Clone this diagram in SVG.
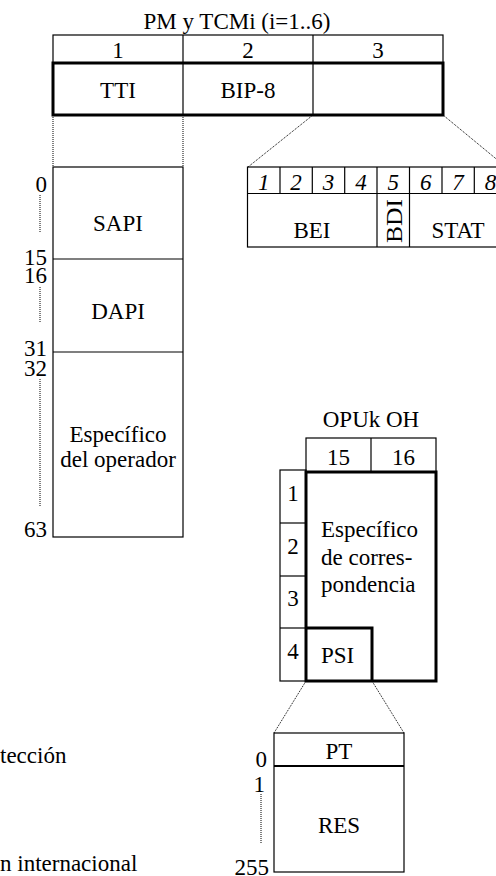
<svg xmlns="http://www.w3.org/2000/svg" width="496" height="876" viewBox="0 0 496 876">
<style>
text{font-family:"Liberation Serif","Times New Roman","DejaVu Serif",serif;font-size:23px;fill:#000}
.m{text-anchor:middle}
.r{text-anchor:end}
.i{font-style:italic}
.thin{fill:none;stroke:#000;stroke-width:1.2}
.thick{fill:none;stroke:#000;stroke-width:3}
.dot{fill:none;stroke:#000;stroke-width:1;stroke-dasharray:1 1}
</style>
<rect width="496" height="876" fill="#fff"/>
<g id="connectors">
<line class="dot" x1="53" y1="115" x2="53" y2="167"/>
<line class="dot" x1="183" y1="115" x2="183" y2="167"/>
<line class="dot" x1="313" y1="115" x2="248" y2="167"/>
<line class="dot" x1="443" y1="115" x2="506" y2="167"/>
<line class="dot" x1="40" y1="195" x2="40" y2="232"/>
<line class="dot" x1="40" y1="287" x2="40" y2="323"/>
<line class="dot" x1="40" y1="379" x2="40" y2="507"/>
<line class="dot" x1="306" y1="681" x2="274" y2="733"/>
<line class="dot" x1="372" y1="681" x2="404" y2="733"/>
<line class="dot" x1="261" y1="794" x2="261" y2="843"/>
</g>
<g id="pm-tcm">
<text class="m" x="237" y="29">PM y TCMi (i=1..6)</text>
<rect class="thin" x="53" y="35" width="390" height="28"/>
<line class="thin" x1="183" y1="35" x2="183" y2="115"/>
<line class="thin" x1="313" y1="35" x2="313" y2="115"/>
<rect class="thick" x="53" y="63" width="390" height="52"/>
<text class="m" x="118" y="58">1</text>
<text class="m" x="248" y="58">2</text>
<text class="m" x="378" y="58">3</text>
<text class="m" x="118" y="98">TTI</text>
<text class="m" x="248" y="98">BIP-8</text>
</g>
<g id="tti">
<rect class="thin" x="53" y="167" width="130" height="370"/>
<line class="thin" x1="53" y1="259" x2="183" y2="259"/>
<line class="thin" x1="53" y1="352" x2="183" y2="352"/>
<text class="m" x="118" y="231">SAPI</text>
<text class="m" x="118" y="319">DAPI</text>
<text class="m" x="118" y="442">Específico</text>
<text class="m" x="118" y="467">del operador</text>
<text class="r" x="47" y="192">0</text>
<text class="r" x="47" y="265">15</text>
<text class="r" x="47" y="283">16</text>
<text class="r" x="47" y="356">31</text>
<text class="r" x="47" y="376">32</text>
<text class="r" x="47" y="537">63</text>
</g>
<g id="byte3">
<rect class="thin" x="247.5" y="167" width="259" height="80"/>
<line class="thin" x1="247.5" y1="193.5" x2="506.5" y2="193.5"/>
<line class="thin" x1="280" y1="167" x2="280" y2="193.5"/>
<line class="thin" x1="312.3" y1="167" x2="312.3" y2="193.5"/>
<line class="thin" x1="344.7" y1="167" x2="344.7" y2="193.5"/>
<line class="thin" x1="377" y1="167" x2="377" y2="247"/>
<line class="thin" x1="409.5" y1="167" x2="409.5" y2="247"/>
<line class="thin" x1="442" y1="167" x2="442" y2="193.5"/>
<line class="thin" x1="474.3" y1="167" x2="474.3" y2="193.5"/>
<text class="m i" x="263.7" y="190">1</text>
<text class="m i" x="296.1" y="190">2</text>
<text class="m i" x="328.5" y="190">3</text>
<text class="m i" x="360.9" y="190">4</text>
<text class="m i" x="393.2" y="190">5</text>
<text class="m i" x="425.7" y="190">6</text>
<text class="m i" x="458.1" y="190">7</text>
<text class="m i" x="490.5" y="190">8</text>
<text class="m" x="312" y="238">BEI</text>
<text class="m" x="458" y="238">STAT</text>
<text class="m" transform="translate(402,221) rotate(-90)" textLength="44" lengthAdjust="spacingAndGlyphs">BDI</text>
</g>
<g id="opu">
<text class="m" x="371" y="427">OPUk OH</text>
<rect class="thin" x="306" y="438" width="130" height="34"/>
<line class="thin" x1="371" y1="438" x2="371" y2="472"/>
<text class="m" x="338.5" y="465">15</text>
<text class="m" x="403.5" y="465">16</text>
<rect class="thin" x="280" y="470" width="26" height="211"/>
<line class="thin" x1="280" y1="523" x2="306" y2="523"/>
<line class="thin" x1="280" y1="576" x2="306" y2="576"/>
<line class="thin" x1="280" y1="628" x2="306" y2="628"/>
<text class="m" x="293" y="501">1</text>
<text class="m" x="293" y="554">2</text>
<text class="m" x="293" y="606">3</text>
<text class="m" x="293" y="659">4</text>
<rect class="thick" x="306" y="472" width="130" height="209"/>
<polyline class="thick" points="306,628 372,628 372,681"/>
<text x="321" y="537">Específico</text>
<text x="321" y="565">de corres-</text>
<text x="321" y="592">pondencia</text>
<text x="321" y="663">PSI</text>
</g>
<g id="psi">
<rect class="thin" x="274" y="733" width="130" height="139"/>
<line x1="274" y1="766" x2="404" y2="766" stroke="#000" stroke-width="2"/>
<text class="m" x="339" y="759">PT</text>
<text class="m" x="339" y="833">RES</text>
<text class="r" x="267" y="767">0</text>
<text class="r" x="265" y="792">1</text>
<text class="r" x="269" y="875">255</text>
</g>
<g id="notes">
<text x="0" y="763">tección</text>
<text x="0" y="871">n internacional</text>
</g>
</svg>
